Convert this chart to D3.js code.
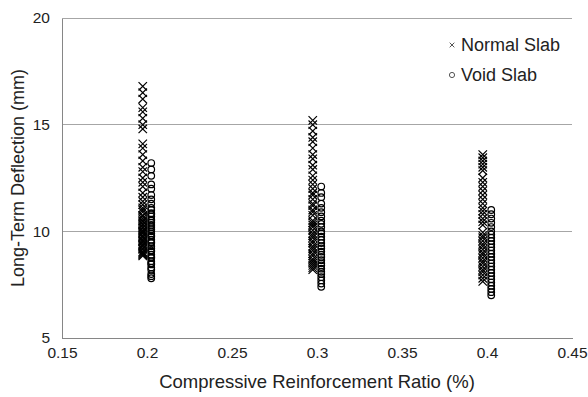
<!DOCTYPE html>
<html>
<head>
<meta charset="utf-8">
<script src="https://cdn.jsdelivr.net/npm/d3@7"></script>
<style>
  body { margin: 0; background: #fff; }
  text { font-family: Arial, "Liberation Sans", sans-serif; fill: #222; }
</style>
</head>
<body>
<div id="chart"></div>
<script>
// x positions of each group (normal marks sit a bit left, void marks a bit right)
var normalX = [0.1975, 0.2975, 0.3975];
var voidX = [0.2025, 0.3025, 0.4025];

// long-term deflection (mm)
var normal02 = [16.8, 16.5, 16.2, 15.8, 15.6, 15.3, 15.0, 14.8, 14.1, 13.9, 13.6, 13.3, 13.0, 12.8,
    12.5, 12.3, 12.1, 11.8, 11.6, 11.4, 11.25, 11.1, 11.0, 10.9, 10.75, 10.7, 10.6, 10.5, 10.45,
    10.35, 10.3, 10.2, 10.15, 10.05, 10.0, 9.95, 9.9, 9.8, 9.75, 9.7, 9.6, 9.55, 9.5, 9.4, 9.35,
    9.3, 9.2, 9.15, 9.05, 9.0, 8.95, 8.9, 8.85];
var void02 = [13.2, 12.9, 12.6, 12.2, 12.0, 11.7, 11.5, 11.3, 11.1, 11.0, 10.85, 10.8, 10.7, 10.55,
    10.5, 10.4, 10.3, 10.2, 10.1, 10.0, 9.9, 9.8, 9.75, 9.6, 9.5, 9.45, 9.3, 9.2, 9.1, 9.05, 8.9,
    8.8, 8.75, 8.6, 8.5, 8.45, 8.3, 8.2, 8.0, 7.9, 7.8];
var normal03 = [15.2, 15.0, 14.7, 14.4, 14.2, 13.9, 13.6, 13.4, 13.1, 12.9, 12.6, 12.4, 12.2, 12.0,
    11.8, 11.7, 11.5, 11.3, 11.2, 11.0, 10.9, 10.75, 10.5, 10.4, 10.3, 10.2, 10.05, 9.9, 9.8, 9.7,
    9.55, 9.45, 9.3, 9.2, 9.1, 8.95, 8.85, 8.7, 8.6, 8.5, 8.4, 8.3, 8.2];
var void03 = [12.1, 11.8, 11.6, 11.3, 11.1, 10.9, 10.7, 10.5, 10.35, 10.2, 10.0, 9.9, 9.75, 9.6,
    9.45, 9.3, 9.2, 9.05, 8.9, 8.8, 8.65, 8.5, 8.4, 8.25, 8.1, 8.0, 7.85, 7.7, 7.55, 7.4];
var normal04 = [13.6, 13.45, 13.3, 13.15, 13.0, 12.85, 12.5, 12.3, 12.1, 11.9, 11.7, 11.5, 11.3,
    11.1, 10.95, 10.8, 10.6, 10.45, 10.3, 9.95, 9.8, 9.7, 9.55, 9.4, 9.3, 9.15, 9.0, 8.9, 8.75, 8.6,
    8.5, 8.35, 8.2, 8.1, 7.95, 7.8, 7.65];
var void04 = [11.0, 10.8, 10.6, 10.4, 10.2, 10.0, 9.85, 9.7, 9.55, 9.4, 9.25, 9.1, 8.95, 8.8, 8.65,
    8.5, 8.35, 8.2, 8.05, 7.9, 7.75, 7.6, 7.45, 7.3, 7.15, 7.0];

var xTicks = [0.15, 0.2, 0.25, 0.3, 0.35, 0.4, 0.45];
var yTicks = [5, 10, 15, 20];
var seriesNames = ["Normal Slab", "Void Slab"];

var normalData = [], voidData = [];
[normal02, normal03, normal04].forEach(function(arr, i) {
    arr.forEach(function(v) { normalData.push({x: normalX[i], y: v}); });
});
[void02, void03, void04].forEach(function(arr, i) {
    arr.forEach(function(v) { voidData.push({x: voidX[i], y: v}); });
});

var W = 588, H = 397;
var margin = {top: 18, right: 16, bottom: 59, left: 62};
var width = W - margin.left - margin.right,
    height = H - margin.top - margin.bottom;

var svg = d3.select("#chart").append("svg")
    .attr("width", W)
    .attr("height", H);

var g = svg.append("g")
    .attr("transform", "translate(" + margin.left + "," + margin.top + ")");

var x = d3.scaleLinear().domain([0.15, 0.45]).range([0, width]);
var y = d3.scaleLinear().domain([5, 20]).range([height, 0]);

// gridlines
g.selectAll(".grid")
    .data(yTicks.filter(function(d) { return d > 5; }))
    .enter().append("line")
    .attr("x1", 0).attr("x2", width)
    .attr("y1", function(d) { return y(d); })
    .attr("y2", function(d) { return y(d); })
    .attr("stroke", "#a6a6a6")
    .attr("stroke-width", 1)
    .attr("shape-rendering", "crispEdges");

// axes
var xAxis = d3.axisBottom(x).tickValues(xTicks).tickSize(0).tickPadding(9)
    .tickFormat(function(d) { return d3.format("")(+d.toFixed(2)); });
g.append("g")
    .attr("transform", "translate(0," + height + ")")
    .call(xAxis)
    .call(function(s) {
        s.select(".domain").attr("stroke", "#868686").attr("shape-rendering", "crispEdges");
        s.selectAll("text").attr("font-size", 15.5).attr("fill", "#222").attr("font-family", "Arial, 'Liberation Sans', sans-serif");
    });

var yAxis = d3.axisLeft(y).tickValues(yTicks).tickSize(0).tickPadding(12);
g.append("g")
    .call(yAxis)
    .call(function(s) {
        s.select(".domain").attr("stroke", "#868686").attr("shape-rendering", "crispEdges");
        s.selectAll("text").attr("font-size", 15.5).attr("fill", "#222").attr("font-family", "Arial, 'Liberation Sans', sans-serif");
    });

// axis titles
svg.append("text")
    .attr("x", margin.left + width / 2)
    .attr("y", 388)
    .attr("text-anchor", "middle")
    .attr("font-size", 18.5)
    .text("Compressive Reinforcement Ratio (%)");

svg.append("text")
    .attr("transform", "translate(24," + (margin.top + height / 2) + ") rotate(-90)")
    .attr("text-anchor", "middle")
    .attr("font-size", 18)
    .text("Long-Term Deflection (mm)");

// marks
var cross = d3.symbol().type(d3.symbolX).size(48);
g.selectAll(".normal")
    .data(normalData)
    .enter().append("path")
    .attr("class", "normal")
    .attr("d", cross)
    .attr("transform", function(d) { return "translate(" + x(d.x) + "," + y(d.y) + ")"; })
    .attr("fill", "none")
    .attr("stroke", "#000")
    .attr("stroke-width", 1.2);

g.selectAll(".void")
    .data(voidData)
    .enter().append("circle")
    .attr("class", "void")
    .attr("cx", function(d) { return x(d.x); })
    .attr("cy", function(d) { return y(d.y); })
    .attr("r", 3.3)
    .attr("fill", "none")
    .attr("stroke", "#000")
    .attr("stroke-width", 1.2);

// legend
var legend = svg.append("g").attr("transform", "translate(452,45)");
legend.append("path")
    .attr("d", d3.symbol().type(d3.symbolX).size(16))
    .attr("fill", "none").attr("stroke", "#555").attr("stroke-width", 1);
legend.append("circle")
    .attr("cy", 30).attr("r", 2.6)
    .attr("fill", "none").attr("stroke", "#555").attr("stroke-width", 1);
legend.selectAll("text")
    .data(seriesNames)
    .enter().append("text")
    .attr("x", 9)
    .attr("y", function(d, i) { return i * 30 + 6; })
    .attr("font-size", 18)
    .text(function(d) { return d; });
</script>
</body>
</html>
